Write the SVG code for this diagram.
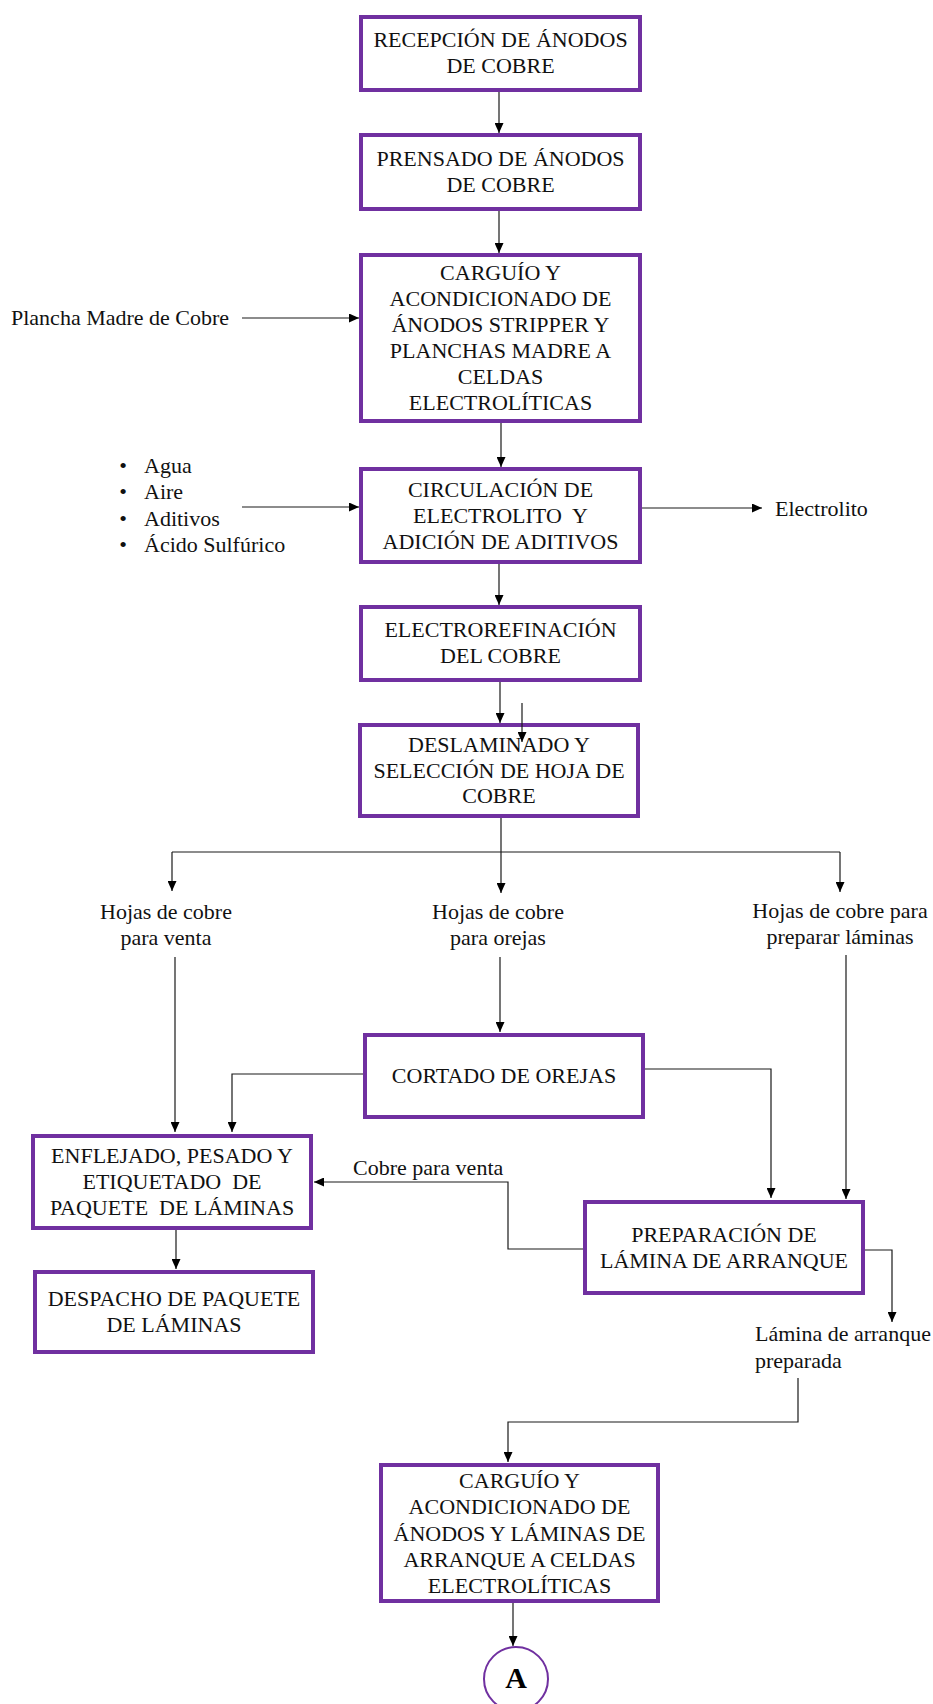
<svg xmlns="http://www.w3.org/2000/svg" width="933" height="1704" viewBox="0 0 933 1704">
<style>
.box{fill:#ffffff;stroke:#7030A0;stroke-width:4}
.t{font-family:"Liberation Serif","Times New Roman",serif;font-size:22px;fill:#111111;white-space:pre}
.c{text-anchor:middle}
.ln{fill:none;stroke:#1a1a1a;stroke-width:1.2}
</style>
<defs>
<marker id="ah" markerUnits="userSpaceOnUse" markerWidth="10" markerHeight="9" refX="10" refY="4.5" orient="auto">
<path d="M0,0 L10,4.5 L0,9 Z" fill="#000000"/>
</marker>
</defs>
<rect x="0" y="0" width="933" height="1704" fill="#ffffff"/>

<g id="n1">
<rect class="box" x="361" y="17" width="279" height="73"/>
<text class="t c" x="500.5" y="47">RECEPCIÓN DE ÁNODOS</text>
<text class="t c" x="500.5" y="73">DE COBRE</text>
</g>
<g id="n2">
<rect class="box" x="361" y="135" width="279" height="74"/>
<text class="t c" x="500.5" y="166">PRENSADO DE ÁNODOS</text>
<text class="t c" x="500.5" y="192">DE COBRE</text>
</g>
<g id="n3">
<rect class="box" x="361" y="255" width="279" height="166"/>
<text class="t c" x="500.5" y="280">CARGUÍO Y</text>
<text class="t c" x="500.5" y="306">ACONDICIONADO DE</text>
<text class="t c" x="500.5" y="332">ÁNODOS STRIPPER Y</text>
<text class="t c" x="500.5" y="358">PLANCHAS MADRE A</text>
<text class="t c" x="500.5" y="384">CELDAS</text>
<text class="t c" x="500.5" y="410">ELECTROLÍTICAS</text>
</g>
<g id="in-plancha">
<text class="t" x="11" y="325">Plancha Madre de Cobre</text>
</g>
<g id="in-insumos">
<text class="t c" x="123" y="473">•</text>
<text class="t c" x="123" y="499">•</text>
<text class="t c" x="123" y="526">•</text>
<text class="t c" x="123" y="552">•</text>
<text class="t" x="144" y="473">Agua</text>
<text class="t" x="144" y="499">Aire</text>
<text class="t" x="144" y="526">Aditivos</text>
<text class="t" x="144" y="552">Ácido Sulfúrico</text>
</g>
<g id="n4">
<rect class="box" x="361" y="469" width="279" height="93"/>
<text class="t c" x="500.5" y="497">CIRCULACIÓN DE</text>
<text class="t c" x="500.5" y="523">ELECTROLITO  Y</text>
<text class="t c" x="500.5" y="549">ADICIÓN DE ADITIVOS</text>
</g>
<g id="out-electrolito">
<text class="t" x="775" y="516">Electrolito</text>
</g>
<g id="n5">
<rect class="box" x="361" y="607" width="279" height="73"/>
<text class="t c" x="500.5" y="637">ELECTROREFINACIÓN</text>
<text class="t c" x="500.5" y="663">DEL COBRE</text>
</g>
<g id="n6">
<rect class="box" x="360" y="725" width="278" height="91"/>
<text class="t c" x="499" y="752">DESLAMINADO Y</text>
<text class="t c" x="499" y="778">SELECCIÓN DE HOJA DE</text>
<text class="t c" x="499" y="803">COBRE</text>
</g>
<g id="l-venta">
<text class="t c" x="166" y="919">Hojas de cobre</text>
<text class="t c" x="166" y="945">para venta</text>
</g>
<g id="l-orejas">
<text class="t c" x="498" y="919">Hojas de cobre</text>
<text class="t c" x="498" y="945">para orejas</text>
</g>
<g id="l-laminas">
<text class="t c" x="840" y="918">Hojas de cobre para</text>
<text class="t c" x="840" y="944">preparar láminas</text>
</g>
<g id="n7">
<rect class="box" x="365" y="1035" width="278" height="82"/>
<text class="t c" x="504" y="1083">CORTADO DE OREJAS</text>
</g>
<g id="n8">
<rect class="box" x="33" y="1136" width="278" height="92"/>
<text class="t c" x="172" y="1163">ENFLEJADO, PESADO Y</text>
<text class="t c" x="172" y="1189">ETIQUETADO  DE</text>
<text class="t c" x="172" y="1215">PAQUETE  DE LÁMINAS</text>
</g>
<g id="l-cobreventa">
<text class="t" x="353" y="1175">Cobre para venta</text>
</g>
<g id="n9">
<rect class="box" x="585" y="1202" width="278" height="91"/>
<text class="t c" x="724" y="1242">PREPARACIÓN DE</text>
<text class="t c" x="724" y="1268">LÁMINA DE ARRANQUE</text>
</g>
<g id="n10">
<rect class="box" x="35" y="1272" width="278" height="80"/>
<text class="t c" x="174" y="1306">DESPACHO DE PAQUETE</text>
<text class="t c" x="174" y="1332">DE LÁMINAS</text>
</g>
<g id="l-lamina">
<text class="t" x="755" y="1341">Lámina de arranque</text>
<text class="t" x="755" y="1368">preparada</text>
</g>
<g id="n11">
<rect class="box" x="381" y="1465" width="277" height="136"/>
<text class="t c" x="519.5" y="1488">CARGUÍO Y</text>
<text class="t c" x="519.5" y="1514">ACONDICIONADO DE</text>
<text class="t c" x="519.5" y="1541">ÁNODOS Y LÁMINAS DE</text>
<text class="t c" x="519.5" y="1567">ARRANQUE A CELDAS</text>
<text class="t c" x="519.5" y="1593">ELECTROLÍTICAS</text>
</g>
<g id="nA">
<circle cx="516" cy="1679" r="32" fill="#ffffff" stroke="#7030A0" stroke-width="2"/>
<text x="516" y="1688" text-anchor="middle" font-family="Liberation Serif, Times New Roman, serif" font-size="30" font-weight="bold" fill="#000000">A</text>
</g>

<g id="connectors">
<path class="ln" d="M499,92 V133" marker-end="url(#ah)"/>
<path class="ln" d="M499,211 V253" marker-end="url(#ah)"/>
<path class="ln" d="M242,318 H359" marker-end="url(#ah)"/>
<path class="ln" d="M501,423 V467" marker-end="url(#ah)"/>
<path class="ln" d="M242,507 H359" marker-end="url(#ah)"/>
<path class="ln" d="M642,508 H762" marker-end="url(#ah)"/>
<path class="ln" d="M499,564 V605" marker-end="url(#ah)"/>
<path class="ln" d="M500,682 V723" marker-end="url(#ah)"/>
<path class="ln" d="M522,703 V742" marker-end="url(#ah)"/>
<path class="ln" d="M501,818 V893" marker-end="url(#ah)"/>
<path class="ln" d="M172,852 H840"/>
<path class="ln" d="M172,852 V891" marker-end="url(#ah)"/>
<path class="ln" d="M840,852 V892" marker-end="url(#ah)"/>
<path class="ln" d="M175,957 V1132" marker-end="url(#ah)"/>
<path class="ln" d="M500,957 V1032" marker-end="url(#ah)"/>
<path class="ln" d="M846,955 V1199" marker-end="url(#ah)"/>
<path class="ln" d="M363,1074 H232 V1132" marker-end="url(#ah)"/>
<path class="ln" d="M645,1069 H771 V1198" marker-end="url(#ah)"/>
<path class="ln" d="M583,1249 H508 V1182 H314" marker-end="url(#ah)"/>
<path class="ln" d="M865,1250 H892 V1322" marker-end="url(#ah)"/>
<path class="ln" d="M798,1378 V1422 H508 V1462" marker-end="url(#ah)"/>
<path class="ln" d="M176,1230 V1269" marker-end="url(#ah)"/>
<path class="ln" d="M513,1603 V1646" marker-end="url(#ah)"/>
</g>
</svg>
